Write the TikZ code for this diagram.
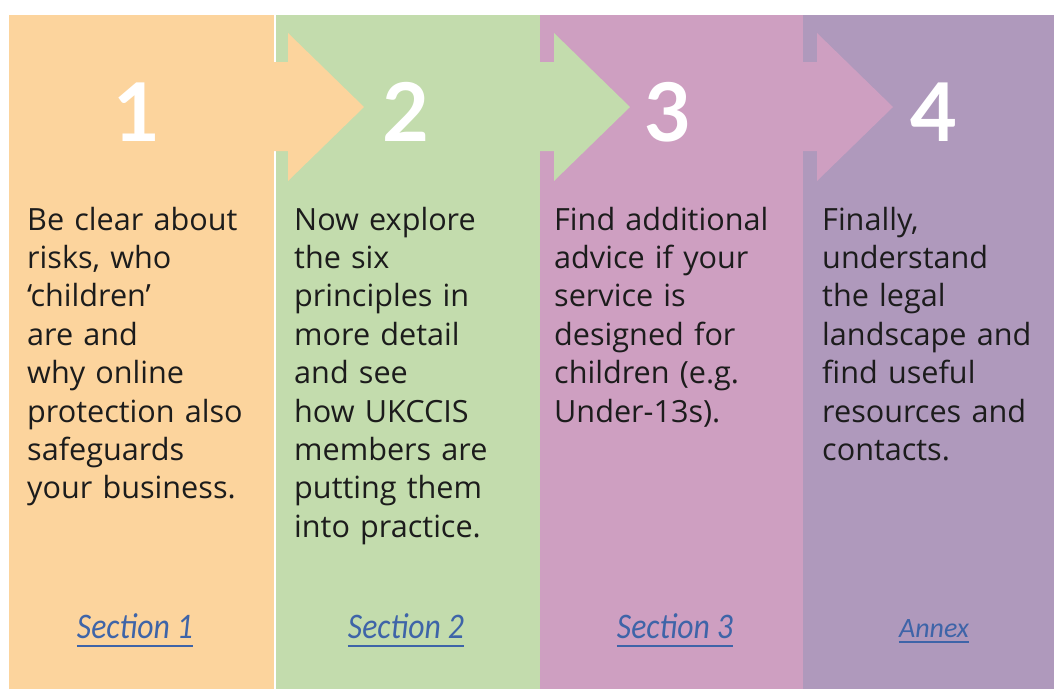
\documentclass[tikz,border=0pt]{standalone}
\usepackage{fontspec}
\setmainfont{Open Sans}
\newfontfamily\numfont{Lato}
\newfontfamily\linkfont[FakeStretch=0.88]{Carlito}
\newfontfamily\annexfont{Carlito}
\usetikzlibrary{positioning}

\definecolor{stepone}{RGB}{252,212,157}
\definecolor{steptwo}{RGB}{195,220,173}
\definecolor{stepthree}{RGB}{206,159,193}
\definecolor{stepfour}{RGB}{175,153,188}
\definecolor{textdark}{RGB}{28,28,28}
\definecolor{linkblue}{RGB}{62,100,168}

\begin{document}
\begin{tikzpicture}[x=1pt,y=-1pt,
  numlabel/.style={text=white, inner sep=0pt, font=\numfont\bfseries\fontsize{81}{81}\selectfont},
  bodytext/.style={anchor=base west, align=left, text width=250pt, inner sep=0pt, text=textdark, font=\fontsize{30.6}{38.4}\selectfont},
  linktext/.style={anchor=base, inner sep=0pt, text=linkblue, font=\linkfont\itshape\fontsize{36}{36}\selectfont},
  linkline/.style={draw=linkblue, line width=1.8pt}
]
\useasboundingbox (0,0) rectangle (1054,689);

% columns
\fill[stepone] (9,15) rectangle (274,689);
\fill[white] (274,15) rectangle (275.5,689);
\fill[steptwo] (275.5,15) rectangle (540,689);
\fill[stepthree] (540,15) rectangle (803,689);
\fill[stepfour] (803,15) rectangle (1054,689);

% arrows between the columns
\foreach \bx/\col in {274/stepone,540/steptwo,803/stepthree}
  \fill[\col] (\bx-1,62) -- (\bx+14,62) -- (\bx+14,33) -- (\bx+90,107) -- (\bx+14,181) -- (\bx+14,151) -- (\bx-1,151) -- cycle;

% step numbers
\node[numlabel] (num1) at (137,112) {1};
\node[numlabel] (num2) at (406,112) {2};
\node[numlabel] (num3) at (668,112) {3};
\node[numlabel] (num4) at (934,112) {4};

% step texts
\node[bodytext] (text1) at (27,230) {Be clear about\\risks, who\\‘children’\\are and\\why online\\protection also\\safeguards\\your business.};
\node[bodytext] (text2) at (294,230) {Now explore\\the six\\principles in\\more detail\\and see\\how UKCCIS\\members are\\putting them\\into practice.};
\node[bodytext] (text3) at (554,230) {Find additional\\advice if your\\service is\\designed for\\children (e.g.\\Under-13s).};
\node[bodytext] (text4) at (822,230) {Finally,\\understand\\the legal\\landscape and\\find useful\\resources and\\contacts.};

% links
\node[linktext] (sec1) at (135,638) {Section 1};
\node[linktext] (sec2) at (406,638) {Section 2};
\node[linktext] (sec3) at (675,638) {Section 3};
\node[linktext, font=\annexfont\itshape\fontsize{28}{28}\selectfont] (annex) at (934,637) {Annex};
\foreach \lk in {sec1,sec2,sec3}
  \draw[linkline] ([yshift=-8pt]\lk.base west) -- ([yshift=-8pt]\lk.base east);
\draw[linkline] ([yshift=-5pt]annex.base west) -- ([yshift=-5pt]annex.base east);

\end{tikzpicture}
\end{document}
